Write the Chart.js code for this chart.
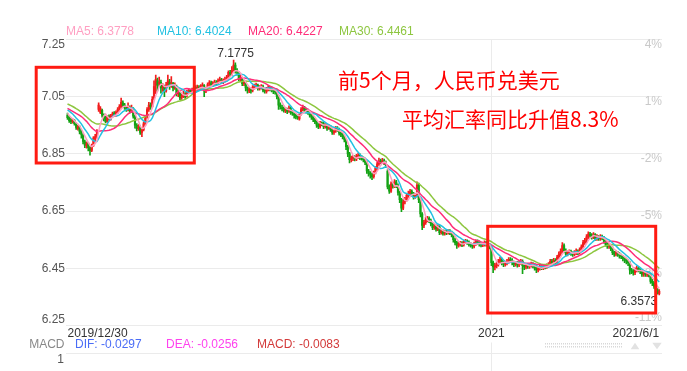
<!DOCTYPE html>
<html>
<head>
<meta charset="utf-8">
<title>USD/CNY daily K-line</title>
<script src="https://cdn.jsdelivr.net/npm/chart.js@4.4.0/dist/chart.umd.min.js"></script>
<style>
  html, body { margin: 0; padding: 0; background: #fff; }
  #wrap { width: 687px; height: 371px; }
</style>
</head>
<body>
<div id="wrap"><canvas id="kline" width="687" height="371"></canvas></div>
<script>
// axis ticks
const priceTicks = [6.25, 6.45, 6.65, 6.85, 7.05, 7.25];
const pctLabels = ['-11%', '-8%', '-5%', '-2%', '1%', '4%'];
const tickIndex = [0, 245, 342];
const tickLabels = ['2019/12/30', '2021', '2021/6/1'];

// moving averages shown in the header (latest values)
const maPeriods = [5, 10, 20, 30];
const maLegend = [6.3778, 6.4024, 6.4227, 6.4461];

// MACD header
const macdNames = ['DIF', 'DEA', 'MACD'];
const macdValues = [-0.0297, -0.0256, -0.0083];

const notes = ['前5个月，人民币兑美元', '平均汇率同比升值8.3%'];

// closes of the 29 sessions before 2019/12/30, only used to start the MAs
const warmupCloses = [
  7.045, 7.050, 7.058, 7.062, 7.060, 7.055, 7.050, 7.052, 7.056, 7.052,
  7.040, 7.035, 7.030, 7.025, 7.020, 7.010, 7.000, 6.998, 6.995, 6.997,
  7.005, 7.012, 7.018, 7.020, 7.015, 7.005, 6.998, 6.992, 6.989
];

// daily candles, 2019/12/30 .. 2021/6/1
const opens = [
  6.985, 6.977, 6.968, 6.962, 6.966, 6.954, 6.938, 6.944, 6.928, 6.916,
  6.892, 6.879, 6.885, 6.872, 6.862, 6.880, 6.902, 6.910, 7.005, 6.995,
  7.002, 6.985, 6.978, 6.965, 6.980, 6.972, 6.982, 6.992, 6.985, 6.995,
  7.005, 7.015, 7.028, 7.020, 7.010, 7.005, 7.012, 7.000, 7.008, 6.982,
  6.950, 6.940, 6.942, 6.925, 6.935, 6.955, 6.980, 7.005, 7.020, 7.015,
  7.045, 7.090, 7.105, 7.095, 7.100, 7.080, 7.085, 7.070, 7.090, 7.100,
  7.090, 7.095, 7.082, 7.085, 7.060, 7.062, 7.048, 7.052, 7.058, 7.052,
  7.065, 7.070, 7.068, 7.075, 7.082, 7.080, 7.082, 7.080, 7.085, 7.088,
  7.070, 7.078, 7.095, 7.098, 7.090, 7.095, 7.100, 7.098, 7.105, 7.108,
  7.100, 7.105, 7.110, 7.115, 7.135, 7.128, 7.140, 7.160, 7.140, 7.130,
  7.112, 7.110, 7.095, 7.098, 7.078, 7.070, 7.075, 7.072, 7.082, 7.086,
  7.090, 7.078, 7.082, 7.085, 7.072, 7.068, 7.075, 7.080, 7.078, 7.070,
  7.068, 7.066, 7.050, 7.020, 7.012, 7.008, 7.000, 7.005, 7.000, 7.010,
  6.995, 6.990, 6.985, 6.982, 6.972, 6.990, 7.005, 7.010, 7.002, 7.000,
  6.995, 6.985, 6.978, 6.970, 6.962, 6.950, 6.945, 6.958, 6.955, 6.945,
  6.950, 6.940, 6.945, 6.935, 6.925, 6.930, 6.940, 6.935, 6.922, 6.918,
  6.910, 6.900, 6.875, 6.850, 6.830, 6.835, 6.838, 6.832, 6.840, 6.845,
  6.838, 6.835, 6.830, 6.820, 6.790, 6.782, 6.778, 6.770, 6.785, 6.800,
  6.815, 6.825, 6.822, 6.826, 6.820, 6.790, 6.735, 6.720, 6.745, 6.738,
  6.752, 6.740, 6.715, 6.690, 6.660, 6.682, 6.690, 6.705, 6.712, 6.718,
  6.710, 6.700, 6.705, 6.740, 6.690, 6.640, 6.600, 6.610, 6.620, 6.625,
  6.618, 6.605, 6.592, 6.598, 6.588, 6.595, 6.575, 6.580, 6.572, 6.578,
  6.575, 6.580, 6.575, 6.568, 6.550, 6.540, 6.530, 6.535, 6.538, 6.532,
  6.542, 6.545, 6.540, 6.535, 6.530, 6.528, 6.535, 6.545, 6.540, 6.535,
  6.532, 6.534, 6.540, 6.535, 6.530, 6.525, 6.470, 6.455, 6.460, 6.465,
  6.475, 6.480, 6.470, 6.465, 6.468, 6.475, 6.482, 6.478, 6.470, 6.465,
  6.468, 6.462, 6.470, 6.475, 6.460, 6.455, 6.462, 6.458, 6.460, 6.465,
  6.460, 6.452, 6.445, 6.450, 6.455, 6.452, 6.458, 6.455, 6.460, 6.462,
  6.475, 6.470, 6.478, 6.470, 6.490, 6.500, 6.510, 6.530, 6.512, 6.500,
  6.505, 6.508, 6.502, 6.500, 6.505, 6.510, 6.505, 6.515, 6.525, 6.540,
  6.545, 6.560, 6.570, 6.565, 6.560, 6.568, 6.555, 6.560, 6.555, 6.560,
  6.558, 6.545, 6.535, 6.528, 6.530, 6.520, 6.505, 6.500, 6.505, 6.500,
  6.495, 6.492, 6.485, 6.480, 6.475, 6.470, 6.445, 6.440, 6.435, 6.445,
  6.450, 6.445, 6.440, 6.430, 6.435, 6.430, 6.432, 6.428, 6.405, 6.400,
  6.388, 6.375, 6.362
];
const highs = [
  6.992, 6.981, 6.975, 6.972, 6.970, 6.958, 6.950, 6.948, 6.932, 6.920,
  6.898, 6.892, 6.890, 6.876, 6.884, 6.910, 6.918, 6.935, 7.028, 7.015,
  7.006, 6.990, 6.982, 6.984, 6.986, 6.988, 6.996, 6.998, 7.000, 7.012,
  7.022, 7.045, 7.035, 7.026, 7.016, 7.028, 7.018, 7.020, 7.012, 6.985,
  6.956, 6.952, 6.948, 6.940, 6.962, 6.982, 7.012, 7.030, 7.028, 7.050,
  7.105, 7.125, 7.115, 7.118, 7.108, 7.095, 7.090, 7.100, 7.125, 7.110,
  7.120, 7.100, 7.098, 7.090, 7.072, 7.066, 7.060, 7.068, 7.064, 7.072,
  7.078, 7.076, 7.080, 7.086, 7.088, 7.090, 7.088, 7.092, 7.098, 7.092,
  7.082, 7.098, 7.106, 7.104, 7.102, 7.108, 7.106, 7.112, 7.118, 7.114,
  7.112, 7.118, 7.124, 7.140, 7.142, 7.155, 7.1775, 7.168, 7.148, 7.136,
  7.124, 7.116, 7.108, 7.102, 7.084, 7.082, 7.080, 7.088, 7.094, 7.097,
  7.094, 7.088, 7.092, 7.090, 7.078, 7.082, 7.088, 7.086, 7.084, 7.076,
  7.074, 7.070, 7.054, 7.028, 7.020, 7.014, 7.012, 7.010, 7.018, 7.014,
  7.002, 6.996, 6.990, 6.988, 6.990, 7.012, 7.020, 7.016, 7.010, 7.006,
  7.000, 6.990, 6.982, 6.975, 6.966, 6.956, 6.964, 6.962, 6.960, 6.956,
  6.954, 6.952, 6.950, 6.940, 6.936, 6.946, 6.945, 6.940, 6.928, 6.924,
  6.915, 6.904, 6.880, 6.855, 6.842, 6.845, 6.844, 6.848, 6.853, 6.850,
  6.844, 6.840, 6.835, 6.824, 6.796, 6.788, 6.784, 6.790, 6.806, 6.822,
  6.835, 6.832, 6.834, 6.832, 6.825, 6.795, 6.742, 6.752, 6.750, 6.760,
  6.758, 6.745, 6.720, 6.695, 6.690, 6.698, 6.712, 6.720, 6.726, 6.724,
  6.716, 6.712, 6.752, 6.748, 6.695, 6.645, 6.618, 6.628, 6.632, 6.630,
  6.622, 6.610, 6.605, 6.602, 6.602, 6.600, 6.588, 6.585, 6.584, 6.584,
  6.586, 6.586, 6.580, 6.572, 6.555, 6.545, 6.542, 6.545, 6.544, 6.548,
  6.552, 6.550, 6.546, 6.540, 6.536, 6.542, 6.550, 6.550, 6.546, 6.540,
  6.540, 6.546, 6.545, 6.540, 6.536, 6.530, 6.476, 6.468, 6.472, 6.482,
  6.490, 6.486, 6.476, 6.476, 6.482, 6.488, 6.488, 6.484, 6.476, 6.475,
  6.474, 6.477, 6.482, 6.480, 6.466, 6.468, 6.468, 6.466, 6.472, 6.470,
  6.466, 6.458, 6.456, 6.462, 6.460, 6.464, 6.464, 6.466, 6.470, 6.482,
  6.482, 6.485, 6.484, 6.496, 6.508, 6.518, 6.540, 6.536, 6.518, 6.512,
  6.515, 6.514, 6.508, 6.512, 6.518, 6.515, 6.522, 6.532, 6.548, 6.555,
  6.568, 6.578, 6.576, 6.572, 6.575, 6.572, 6.568, 6.565, 6.568, 6.566,
  6.562, 6.550, 6.540, 6.538, 6.535, 6.525, 6.510, 6.512, 6.510, 6.505,
  6.500, 6.496, 6.490, 6.486, 6.480, 6.474, 6.450, 6.446, 6.452, 6.458,
  6.455, 6.450, 6.445, 6.442, 6.440, 6.440, 6.438, 6.432, 6.412, 6.405,
  6.392, 6.380, 6.376
];
const lows = [
  6.970, 6.960, 6.955, 6.957, 6.950, 6.935, 6.933, 6.920, 6.905, 6.885,
  6.872, 6.870, 6.860, 6.845, 6.858, 6.876, 6.895, 6.905, 6.998, 6.990,
  6.978, 6.965, 6.958, 6.960, 6.968, 6.968, 6.978, 6.980, 6.981, 6.990,
  7.000, 7.010, 7.012, 7.005, 6.998, 7.000, 6.992, 6.995, 6.975, 6.940,
  6.930, 6.932, 6.918, 6.910, 6.930, 6.950, 6.975, 6.998, 7.005, 7.010,
  7.040, 7.060, 7.070, 7.085, 7.062, 7.068, 7.050, 7.065, 7.085, 7.075,
  7.082, 7.070, 7.075, 7.052, 7.050, 7.038, 7.040, 7.046, 7.044, 7.048,
  7.060, 7.062, 7.062, 7.070, 7.072, 7.074, 7.072, 7.075, 7.080, 7.050,
  7.064, 7.072, 7.088, 7.086, 7.085, 7.090, 7.090, 7.092, 7.100, 7.096,
  7.095, 7.100, 7.104, 7.110, 7.120, 7.124, 7.135, 7.132, 7.125, 7.105,
  7.102, 7.088, 7.088, 7.070, 7.062, 7.064, 7.062, 7.066, 7.076, 7.080,
  7.072, 7.072, 7.076, 7.066, 7.062, 7.062, 7.070, 7.070, 7.066, 7.060,
  7.058, 7.042, 7.005, 7.006, 7.000, 6.996, 6.994, 6.990, 6.995, 6.988,
  6.984, 6.975, 6.972, 6.970, 6.968, 6.985, 7.000, 6.996, 6.992, 6.988,
  6.978, 6.970, 6.962, 6.955, 6.942, 6.938, 6.940, 6.948, 6.938, 6.940,
  6.932, 6.935, 6.928, 6.918, 6.918, 6.925, 6.928, 6.915, 6.910, 6.902,
  6.892, 6.865, 6.840, 6.818, 6.822, 6.826, 6.825, 6.826, 6.834, 6.830,
  6.828, 6.822, 6.812, 6.782, 6.772, 6.765, 6.760, 6.765, 6.780, 6.795,
  6.810, 6.815, 6.816, 6.812, 6.802, 6.728, 6.712, 6.715, 6.730, 6.732,
  6.732, 6.706, 6.680, 6.648, 6.655, 6.675, 6.685, 6.698, 6.705, 6.702,
  6.692, 6.694, 6.700, 6.680, 6.630, 6.585, 6.592, 6.604, 6.612, 6.610,
  6.598, 6.585, 6.586, 6.580, 6.582, 6.568, 6.570, 6.566, 6.566, 6.568,
  6.570, 6.568, 6.560, 6.542, 6.532, 6.520, 6.524, 6.528, 6.526, 6.528,
  6.536, 6.534, 6.528, 6.524, 6.520, 6.522, 6.530, 6.534, 6.528, 6.525,
  6.526, 6.528, 6.528, 6.522, 6.518, 6.460, 6.435, 6.445, 6.452, 6.458,
  6.468, 6.462, 6.456, 6.458, 6.462, 6.468, 6.470, 6.462, 6.456, 6.458,
  6.454, 6.456, 6.464, 6.432, 6.446, 6.448, 6.450, 6.450, 6.454, 6.452,
  6.444, 6.435, 6.438, 6.444, 6.446, 6.446, 6.448, 6.450, 6.454, 6.456,
  6.462, 6.464, 6.464, 6.466, 6.484, 6.494, 6.505, 6.505, 6.494, 6.494,
  6.498, 6.495, 6.492, 6.494, 6.498, 6.498, 6.500, 6.510, 6.520, 6.534,
  6.540, 6.554, 6.558, 6.552, 6.554, 6.548, 6.548, 6.548, 6.548, 6.550,
  6.538, 6.528, 6.520, 6.520, 6.512, 6.498, 6.492, 6.494, 6.492, 6.486,
  6.484, 6.476, 6.470, 6.466, 6.460, 6.430, 6.432, 6.426, 6.428, 6.438,
  6.438, 6.432, 6.422, 6.422, 6.422, 6.422, 6.420, 6.398, 6.390, 6.380,
  6.368, 6.360, 6.3573
];
const closes = [
  6.976, 6.966, 6.962, 6.968, 6.955, 6.942, 6.945, 6.928, 6.918, 6.893,
  6.880, 6.886, 6.872, 6.862, 6.878, 6.905, 6.910, 6.928, 7.020, 7.008,
  6.985, 6.972, 6.962, 6.978, 6.975, 6.982, 6.990, 6.985, 6.995, 7.005,
  7.015, 7.030, 7.020, 7.012, 7.005, 7.015, 7.000, 7.010, 6.982, 6.950,
  6.938, 6.945, 6.925, 6.935, 6.955, 6.975, 7.005, 7.020, 7.015, 7.040,
  7.085, 7.110, 7.090, 7.100, 7.080, 7.085, 7.070, 7.090, 7.105, 7.085,
  7.098, 7.080, 7.090, 7.060, 7.065, 7.045, 7.052, 7.060, 7.050, 7.065,
  7.070, 7.068, 7.072, 7.080, 7.078, 7.082, 7.078, 7.085, 7.090, 7.070,
  7.075, 7.092, 7.098, 7.092, 7.095, 7.100, 7.096, 7.105, 7.110, 7.102,
  7.106, 7.110, 7.115, 7.135, 7.128, 7.140, 7.160, 7.140, 7.135, 7.112,
  7.115, 7.095, 7.100, 7.080, 7.072, 7.075, 7.070, 7.082, 7.086, 7.090,
  7.078, 7.082, 7.085, 7.072, 7.070, 7.075, 7.080, 7.078, 7.072, 7.068,
  7.066, 7.050, 7.020, 7.015, 7.008, 7.002, 7.005, 6.998, 7.010, 6.995,
  6.992, 6.985, 6.980, 6.976, 6.985, 7.005, 7.012, 7.002, 7.000, 6.995,
  6.985, 6.978, 6.970, 6.962, 6.950, 6.945, 6.958, 6.955, 6.945, 6.950,
  6.940, 6.945, 6.935, 6.925, 6.930, 6.940, 6.935, 6.922, 6.918, 6.910,
  6.900, 6.875, 6.850, 6.830, 6.835, 6.838, 6.832, 6.840, 6.845, 6.838,
  6.835, 6.830, 6.820, 6.790, 6.782, 6.778, 6.770, 6.785, 6.800, 6.815,
  6.825, 6.822, 6.826, 6.820, 6.810, 6.735, 6.720, 6.745, 6.738, 6.752,
  6.740, 6.715, 6.690, 6.660, 6.682, 6.690, 6.705, 6.712, 6.718, 6.710,
  6.700, 6.705, 6.740, 6.690, 6.640, 6.600, 6.610, 6.620, 6.625, 6.618,
  6.605, 6.592, 6.598, 6.588, 6.595, 6.575, 6.580, 6.572, 6.578, 6.575,
  6.580, 6.575, 6.568, 6.550, 6.540, 6.530, 6.535, 6.538, 6.532, 6.542,
  6.545, 6.540, 6.535, 6.530, 6.528, 6.535, 6.545, 6.540, 6.535, 6.532,
  6.534, 6.540, 6.535, 6.530, 6.525, 6.470, 6.455, 6.460, 6.465, 6.475,
  6.480, 6.470, 6.465, 6.468, 6.475, 6.482, 6.478, 6.470, 6.465, 6.468,
  6.462, 6.470, 6.475, 6.460, 6.455, 6.462, 6.458, 6.460, 6.465, 6.460,
  6.452, 6.445, 6.450, 6.455, 6.452, 6.458, 6.455, 6.460, 6.462, 6.475,
  6.470, 6.478, 6.470, 6.490, 6.500, 6.510, 6.530, 6.512, 6.500, 6.505,
  6.508, 6.502, 6.500, 6.505, 6.510, 6.505, 6.515, 6.525, 6.540, 6.545,
  6.560, 6.570, 6.565, 6.560, 6.568, 6.555, 6.560, 6.555, 6.560, 6.558,
  6.545, 6.535, 6.528, 6.530, 6.520, 6.505, 6.500, 6.505, 6.500, 6.495,
  6.492, 6.485, 6.480, 6.475, 6.470, 6.445, 6.440, 6.435, 6.445, 6.450,
  6.445, 6.440, 6.430, 6.435, 6.430, 6.432, 6.428, 6.405, 6.400, 6.388,
  6.375, 6.365, 6.370
];

const FONT = '"Liberation Sans", Arial, sans-serif';
const UP = '#f21d1d';
const DOWN = '#14a214';
const maColors = ['#ff9fc2', '#22c1e2', '#ff2c78', '#8dc63f'];
const macdColors = ['#4a6cf6', '#ff42ee', '#d33a3a'];
const GRID = '#ebebeb';

// simple moving average over the closes (the warm-up closes feed the first points)
function movingAverage(n) {
  const all = warmupCloses.concat(closes);
  const off = warmupCloses.length;
  return closes.map((c, i) => {
    let s = 0;
    for (let k = off + i - n + 1; k <= off + i; k++) s += all[k];
    return { x: i, y: s / n };
  });
}

const candleColors = closes.map((c, i) => (c >= opens[i] ? UP : DOWN));
const wicks = highs.map((h, i) => ({ x: i, y: [lows[i], h] }));
const bodies = opens.map((o, i) => ({ x: i, y: [o, closes[i]] }));

const maSets = maPeriods.map((p, k) => ({
  type: 'line',
  label: 'MA' + p,
  data: movingAverage(p),
  borderColor: maColors[k],
  borderWidth: 1.5,
  pointRadius: 0,
  tension: 0,
  order: 0
}));

const decor = {
  id: 'decor',
  beforeDraw(chart) {
    // the end labels of the price axis sit inside the plot, like the original
    const items = chart.scales.y.getLabelItems();
    if (items.length && items[0].options && items[0].options.translation) {
      items[0].options.translation[1] -= 6.5;
      items[items.length - 1].options.translation[1] += 5.7;
    }
  },
  beforeDatasetsDraw(chart) {
    const { ctx, chartArea, scales } = chart;
    ctx.save();
    ctx.font = '12px ' + FONT;
    ctx.fillStyle = '#c9c9c9';
    ctx.textAlign = 'right';
    ctx.textBaseline = 'middle';
    priceTicks.forEach((v, k) => {
      const py = scales.y.getPixelForValue(v);
      ctx.fillText(pctLabels[k], chartArea.right, k === 0 ? py - 8.5 : py + 5);
    });
    ctx.restore();
  },
  afterDraw(chart) {
    const { ctx, chartArea, scales } = chart;
    const xs = scales.x, ys = scales.y;
    ctx.save();
    ctx.font = '12px ' + FONT;
    ctx.textBaseline = 'middle';
    ctx.textAlign = 'left';

    // MA header
    maPeriods.forEach((p, k) => {
      ctx.fillStyle = maColors[k];
      ctx.fillText('MA' + p + ': ' + maLegend[k].toFixed(4), chartArea.left + k * 91, 31.7);
    });

    // highest / lowest marks
    let hi = 0, lo = 0;
    highs.forEach((v, i) => { if (v > highs[hi]) hi = i; });
    lows.forEach((v, i) => { if (v < lows[lo]) lo = i; });
    ctx.fillStyle = '#333';
    ctx.textAlign = 'center';
    ctx.textBaseline = 'alphabetic';
    ctx.fillText(highs[hi].toFixed(4), xs.getPixelForValue(hi) + 2, ys.getPixelForValue(highs[hi]) - 3.5);
    ctx.textAlign = 'right';
    ctx.textBaseline = 'top';
    ctx.fillText(lows[lo].toFixed(4), xs.getPixelForValue(lo) - 2, ys.getPixelForValue(lows[lo]) + 0.5);

    // red call-out boxes
    ctx.strokeStyle = '#ff1b12';
    ctx.lineWidth = 3;
    ctx.strokeRect(36.2, 67.3, 158.1, 95.7);
    ctx.strokeRect(487.7, 226.3, 168, 86.7);

    // call-out text
    ctx.fillStyle = '#ff0000';
    ctx.font = '21px "Noto Sans CJK SC", sans-serif';
    ctx.textAlign = 'left';
    ctx.textBaseline = 'middle';
    ctx.fillText(notes[0], 338, 80);
    ctx.fillText(notes[1], 402, 119.5);

    // MACD panel header
    const gx = Math.round(xs.getPixelForValue(tickIndex[1])) + 0.5;
    ctx.strokeStyle = GRID;
    ctx.lineWidth = 1;
    ctx.beginPath();
    ctx.moveTo(gx, 342.5);
    ctx.lineTo(gx, 371);
    ctx.moveTo(chartArea.left, 353.5);
    ctx.lineTo(chartArea.right, 353.5);
    ctx.stroke();

    ctx.font = '12px ' + FONT;
    ctx.textAlign = 'right';
    ctx.fillStyle = '#888';
    ctx.fillText('MACD', 64.5, 344.5);
    ctx.fillStyle = '#555';
    ctx.fillText('1', 64, 359.5);
    ctx.textAlign = 'left';
    macdNames.forEach((n, k) => {
      ctx.fillStyle = macdColors[k];
      ctx.fillText(n + ': ' + macdValues[k].toFixed(4), 75 + k * 91, 344.5);
    });

    // scroll strip and arrows
    ctx.fillStyle = '#d8d8d8';
    for (let px = 545; px < 622; px += 2) {
      ctx.fillRect(px, 343, 1, 1.5);
      ctx.fillRect(px, 346, 1, 1.5);
    }
    ctx.fillStyle = '#e2e2e2';
    ctx.beginPath();
    ctx.moveTo(630.7, 349.3); ctx.lineTo(639.3, 349.3); ctx.lineTo(635, 342.7);
    ctx.closePath(); ctx.fill();
    ctx.beginPath();
    ctx.moveTo(652.3, 342.7); ctx.lineTo(661.7, 342.7); ctx.lineTo(657, 349.3);
    ctx.closePath(); ctx.fill();
    ctx.restore();
  }
};

Chart.defaults.font.family = FONT;
Chart.defaults.font.size = 12;

new Chart(document.getElementById('kline'), {
  type: 'bar',
  data: {
    datasets: [
      ...maSets,
      {
        label: 'body',
        data: bodies,
        backgroundColor: candleColors,
        borderWidth: 0,
        barThickness: 1.5,
        minBarLength: 1,
        grouped: false,
        order: 1
      },
      {
        label: 'wick',
        data: wicks,
        backgroundColor: candleColors,
        borderWidth: 0,
        barThickness: 1,
        grouped: false,
        order: 2
      }
    ]
  },
  options: {
    responsive: false,
    animation: false,
    devicePixelRatio: 1,
    events: [],
    layout: { padding: { top: 39.3, right: 25, bottom: 0, left: 0 } },
    plugins: { legend: { display: false }, tooltip: { enabled: false } },
    scales: {
      x: {
        type: 'linear',
        min: -0.87,
        max: 343.6,
        offset: false,
        afterBuildTicks: (s) => { s.ticks = tickIndex.map((v) => ({ value: v })); },
        afterFit: (s) => { s.height = 45.3; },
        ticks: {
          autoSkip: false,
          maxRotation: 0,
          align: 'inner',
          padding: 1,
          color: '#333',
          callback: (v, i) => tickLabels[i]
        },
        grid: {
          offset: false,
          drawTicks: false,
          color: (c) => (c.tick && c.tick.value === tickIndex[1] ? GRID : 'rgba(0,0,0,0)')
        },
        border: { display: false }
      },
      y: {
        min: 6.25,
        max: 7.25,
        afterBuildTicks: (s) => { s.ticks = priceTicks.map((v) => ({ value: v })); },
        afterFit: (s) => { s.width = 66; },
        ticks: {
          padding: 1,
          color: '#555',
          callback: (v) => v.toFixed(2)
        },
        grid: { color: GRID, drawTicks: false },
        border: { display: false }
      }
    }
  },
  plugins: [decor]
});
</script>
</body>
</html>
